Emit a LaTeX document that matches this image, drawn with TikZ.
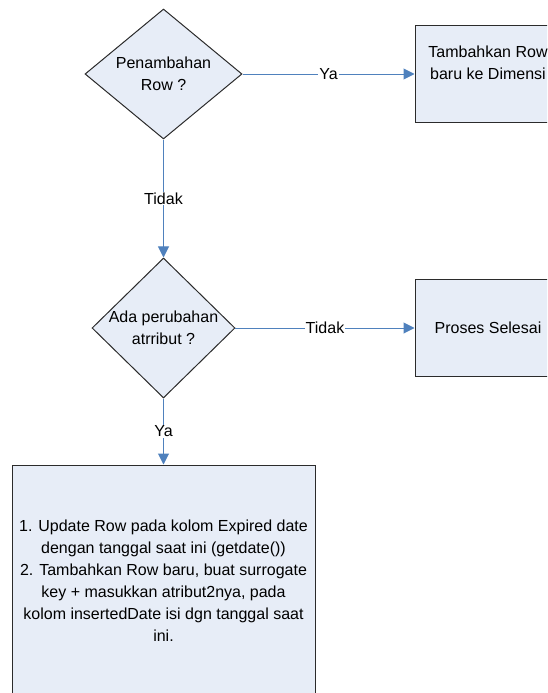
\documentclass[tikz,border=0pt]{standalone}
\usepackage{fontspec}
\setmainfont{Liberation Sans}
\usetikzlibrary{arrows.meta,positioning,shapes.geometric}
\definecolor{boxfill}{HTML}{E7EDF7}
\definecolor{boxline}{HTML}{2B2B2B}
\definecolor{flowline}{HTML}{4F81BD}

\begin{document}
\begin{tikzpicture}[x=1pt,y=-1pt,>={Triangle[length=11pt,width=11pt]},line width=1pt,
                font=\fontsize{16}{22}\selectfont,
                decision node/.style={diamond,draw=boxline,fill=boxfill,inner sep=0pt},
                process node/.style={rectangle,draw=boxline,fill=boxfill,align=center,inner sep=0pt}]
                \useasboundingbox (0,0) rectangle (547,693);
                \clip (0,0) rectangle (547,693);
                \node[decision node,minimum width=157pt,minimum height=130pt,
                      label={[align=center]center:Penambahan\\Row ?}] (0) at (163.5,74) {};
                \node[process node,minimum width=146pt,minimum height=97pt] (1) [right=172pt of 0] {Tambahkan Row\\baru ke Dimensi\\~};
                \node[decision node,minimum width=143pt,minimum height=140pt,
                      label={[align=center]center:Ada perubahan\\atrribut ?}] (2) [below=118pt of 0] {};
                \node[process node,minimum width=146pt,minimum height=97pt] (3) [right=179pt of 2] {Proses Selesai};
                \node[process node,minimum width=303pt,minimum height=231pt] (4) [below=66pt of 2]
                     {1. Update Row pada kolom Expired date\\dengan tanggal saat ini (getdate())\\2. Tambahkan Row baru, buat surrogate\\key + masukkan atribut2nya, pada\\kolom insertedDate isi dgn tanggal saat\\ini.};

                \path[every edge/.style={draw=flowline,->},
                      every node/.style={fill=white,inner sep=1pt}]
                (0) edge node {Ya} (1)
                (0) edge node {Tidak} (2)
                (2) edge node {Tidak} (3)
                (2) edge node {Ya} (4)
                ;
\end{tikzpicture}
\end{document}
